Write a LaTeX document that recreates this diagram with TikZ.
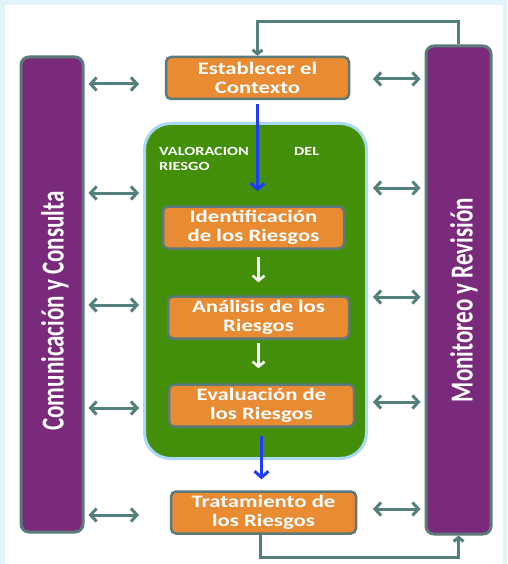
\documentclass[tikz,border=0pt]{standalone}
\usepackage{fontspec}
\setmainfont{Carlito}
\newfontfamily\boxfont[FakeStretch=1.3]{Carlito}
\newfontfamily\barfont[FakeStretch=0.72]{Carlito}
\usetikzlibrary{arrows.meta,calc}
\definecolor{boxorange}{RGB}{232,139,50}
\definecolor{boxedge}{RGB}{92,122,122}
\definecolor{barpurple}{RGB}{122,42,122}
\definecolor{valgreen}{RGB}{67,143,10}
\definecolor{valedge}{RGB}{169,218,245}
\definecolor{linkteal}{RGB}{85,127,124}
\definecolor{flowblue}{RGB}{30,60,255}
\definecolor{pagetint}{RGB}{227,243,250}

\begin{document}
\begin{tikzpicture}[x=1pt, y=-1pt,
    stage/.style={draw=boxedge, line width=2.5pt, fill=boxorange, rounded corners=5pt,
        text=white, align=center, font=\boxfont\bfseries\fontsize{17.5}{19.5}\selectfont,
        minimum width=183pt, minimum height=42pt, inner sep=0pt},
    sidebar/.style={draw=boxedge, line width=3pt, fill=barpurple, rounded corners=8pt,
        inner sep=0pt},
    bartext/.style={rotate=90, text=white, font=\barfont\bfseries\fontsize{32}{34}\selectfont},
    twoway/.style={linkteal, line width=3pt,
        {Straight Barb[length=6pt,width=13pt]}-{Straight Barb[length=6pt,width=13pt]}},
    link/.style={linkteal, line width=3pt, -{Straight Barb[length=4pt,width=10pt]}},
    bigstep/.style={flowblue, line width=3pt, -{Straight Barb[length=6pt,width=14pt]}},
    smallstep/.style={white, line width=2.5pt, -{Straight Barb[length=5pt,width=12pt]}}
]
\useasboundingbox (0,0) rectangle (507,564);

% === page ===
\fill[pagetint] (0,0) rectangle (507,564);
\fill[white] (5,5) rectangle (503,564);

% === side bars ===
\node[sidebar, minimum width=62pt, minimum height=475pt] (comm) at (52,294.5) {};
\node[bartext] (commtext) at (55,311) {Comunicación y Consulta};
\node[sidebar, minimum width=65pt, minimum height=488pt] (moni) at (458.5,290) {};
\node[bartext] (monitext) at (464,300) {Monitoreo y Revisión};

% === risk assessment block ===
\node[draw=valedge, line width=3pt, fill=valgreen, rounded corners=26pt,
    minimum width=222pt, minimum height=335pt] (valor) at (255.5,291) {};
\node[anchor=north west, text=white, text width=160pt, align=left, inner sep=0pt,
    font=\boxfont\bfseries\fontsize{12.5}{15}\selectfont] (valortext) at (159,147)
    {VALORACION\hfill DEL\\RIESGO};

% === process steps ===
\node[stage] (est) at (257.5,78) {Establecer el\\Contexto};
\node[stage, minimum width=181pt] (ident) at (253.5,227.5) {Identificación\\de los Riesgos};
\node[stage, minimum width=181pt] (anal) at (258.5,317.5) {Análisis de los\\Riesgos};
\node[stage, minimum width=185pt] (eval) at (261.5,405.5) {Evaluación de\\los Riesgos};
\node[stage, minimum width=185pt] (trat) at (263.5,512.5) {Tratamiento de\\los Riesgos};

% flow
\draw[bigstep, shorten <=4pt, shorten >=14pt] (est.south) -- (est.south |- ident.north);
\draw[smallstep, shorten <=7pt, shorten >=13pt] (anal.north |- ident.south) -- (anal.north);
\draw[smallstep, shorten <=3pt, shorten >=15pt] (anal.south) -- (anal.south |- eval.north);
\draw[bigstep, shorten <=8pt, shorten >=11pt] (eval.south) -- (eval.south |- trat.north);

% feedback loops
\draw[link] (moni.north) -- ++(0,-23) -| (est.north);
\draw[link] ([xshift=-3pt]trat.south) -- ++(0,23) -| (moni.south);

% two-way links
\foreach \yy in {84,193,305,408,515}
    \draw[twoway, shorten <=4pt, shorten >=4pt] (comm.east |- 0,\yy) -- (valor.west |- 0,\yy);
\foreach \yy in {79,188,297,402,509}
    \draw[twoway, shorten <=5pt, shorten >=4pt] (valor.east |- 0,\yy) -- (moni.west |- 0,\yy);

\end{tikzpicture}
\end{document}
